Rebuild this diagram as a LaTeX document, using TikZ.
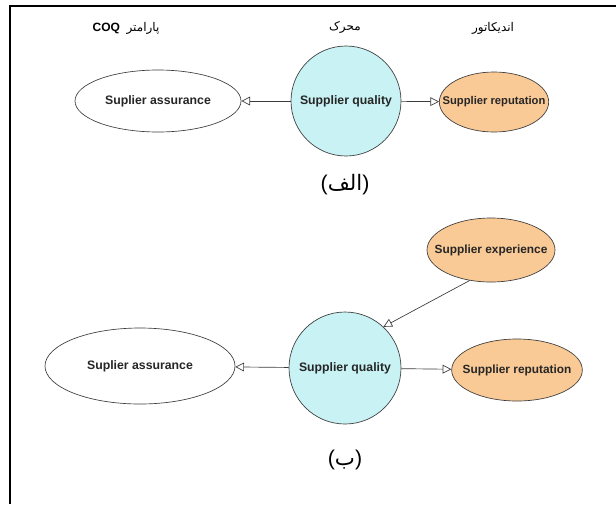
\documentclass[tikz,border=0pt]{standalone}
\usepackage{fontspec}
\setmainfont{Liberation Sans}
\newfontfamily\arabicfont[Script=Arabic]{DejaVu Sans}
\TeXXeTstate=1
\usetikzlibrary{arrows.meta,shapes.geometric}
\definecolor{qcyan}{RGB}{200,242,243}
\definecolor{peach}{RGB}{249,201,150}
\definecolor{edgegray}{RGB}{60,60,60}
\begin{document}
\begin{tikzpicture}[x=0.75pt,y=-0.75pt,
  lbl/.style={font=\fontsize{9.2}{11}\selectfont\bfseries, text=black!85, inner sep=0pt},
  replbl/.style={font=\fontsize{8.4}{10}\selectfont\bfseries, text=black!85, inner sep=0pt},
  replblb/.style={font=\fontsize{8.9}{10}\selectfont\bfseries, text=black!85, inner sep=0pt},
  ovalnode/.style={ellipse, draw=edgegray, line width=0.5pt, inner sep=0pt},
  qnode/.style={lbl, circle, draw=edgegray, line width=0.5pt, fill=qcyan, minimum size=#1},
  repnode/.style={ovalnode, fill=peach},
  arr/.style={draw=edgegray, line width=0.5pt, -{Triangle[open, length=6.5pt, width=6.5pt]}},
  head/.style={font=\fontsize{9}{11}\selectfont, inner sep=0pt},
  sublbl/.style={font=\fontsize{16}{19}\selectfont, inner sep=0pt}]
\useasboundingbox (0,0) rectangle (616,504);
\fill[white] (0,0) rectangle (616,504);
% frame
\draw[line width=1.5pt] (10,504) -- (10,6) -- (616,6);
% headers
\node[head] (h1) at (126,28) {\textbf{COQ}\ \ {\arabicfont\beginR پارامتر\endR}};
\node[head] (h2) at (345,27) {\arabicfont\beginR محرک\endR};
\node[head] (h3) at (493,28) {\arabicfont\beginR اندیکاتور\endR};
% top diagram
\node[ovalnode, minimum width=124.5pt, minimum height=46.5pt] (a1) at (158,101) {};
\node[lbl] (a1t) at (a1) {Suplier assurance};
\node[qnode=82.5pt] (q1) at (346,101) {Supplier quality};
\node[repnode, minimum width=82pt, minimum height=45pt] (r1) at (494,102) {};
\node[replbl] (r1t) at (r1) {Supplier reputation};
\draw[arr] (q1) -- (a1);
\draw[arr] (q1) -- (r1);
\node[sublbl] (l1) at (345,185) {({\arabicfont\beginR الف\endR})};
% bottom diagram
\node[repnode, minimum width=96pt, minimum height=48pt] (e2) at (491,250) {};
\node[replblb] (e2t) at (e2) {Supplier experience};
\node[qnode=84pt] (q2) at (345,368) {Supplier quality};
\node[ovalnode, minimum width=142.5pt, minimum height=57pt] (a2) at (140,366) {};
\node[lbl] (a2t) at (a2) {Suplier assurance};
\node[repnode, minimum width=98pt, minimum height=46.5pt] (r2) at (517,370) {};
\node[replblb] (r2t) at (r2) {Supplier reputation};
\draw[arr] (e2.-125) -- (q2.47);
\draw[arr] (q2) -- (a2);
\draw[arr] (q2) -- (r2);
\node[sublbl] (l2) at (345,460) {({\arabicfont\beginR ب\endR})};
\end{tikzpicture}
\end{document}
